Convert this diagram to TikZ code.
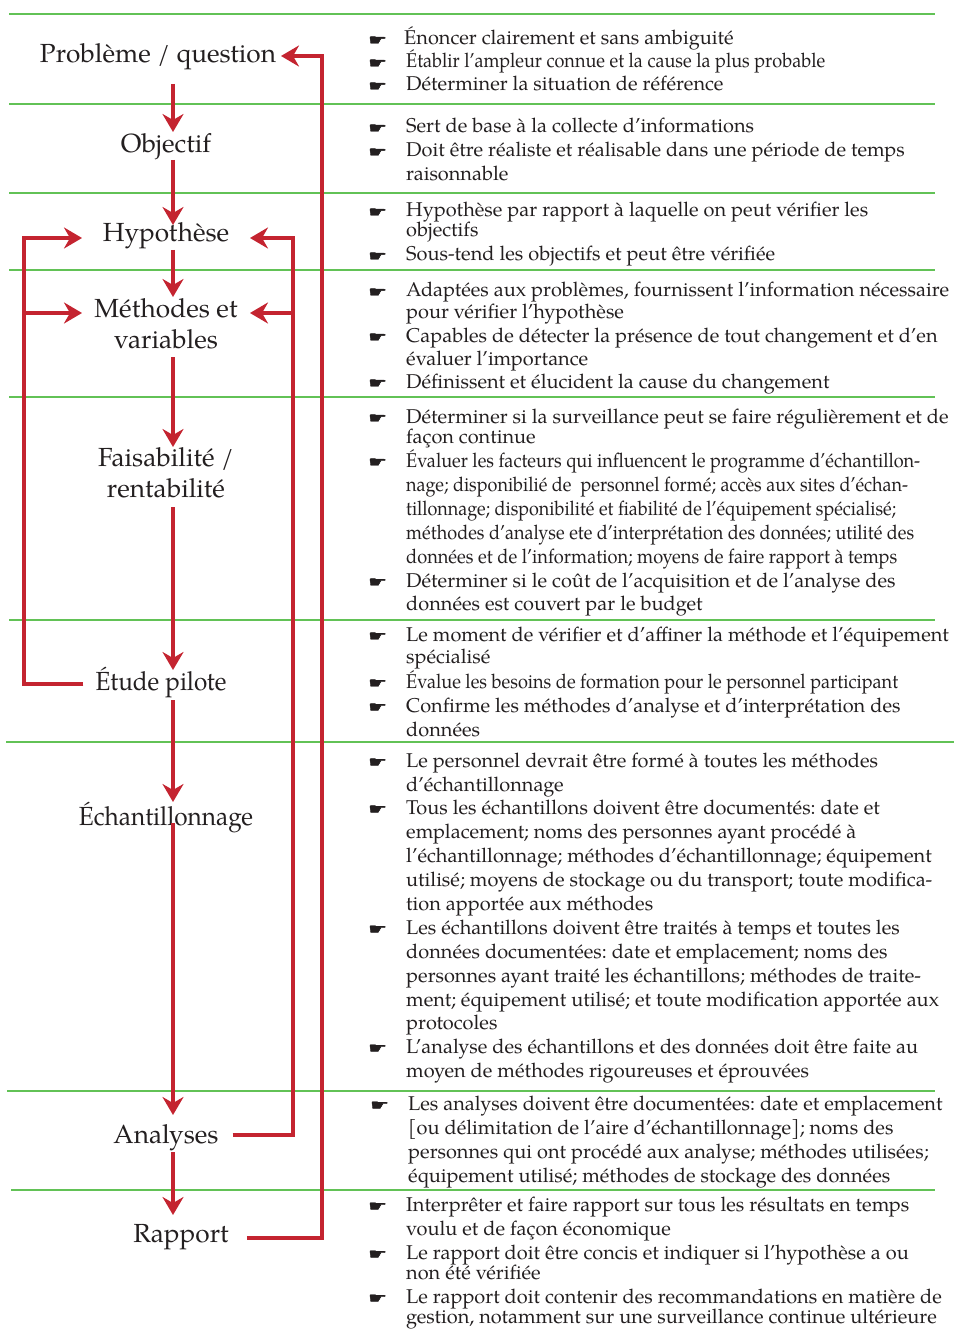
\documentclass[tikz,border=0pt]{standalone}
\usepackage{fontspec}
\setmainfont{TeX Gyre Pagella}
\newfontfamily\handfont[FakeBold=2]{DejaVu Sans}
\usetikzlibrary{arrows.meta,calc}
\definecolor{flowred}{RGB}{196,36,48}
\definecolor{rulegreen}{RGB}{98,194,86}
\definecolor{ink}{RGB}{35,31,32}
\frenchspacing
% squeeze a line horizontally to a given width (in pt), keeping its height
\newcommand\fitto[2]{\resizebox{#1pt}{\height}{#2}}
% flattened pointing-hand bullet
\newcommand\pointer{\scalebox{1}[0.7]{☛}}

\begin{document}
\begin{tikzpicture}[x=1pt,y=-1pt,
  stage/.style={font=\fontsize{26.2}{30}\selectfont, text=ink, inner sep=0pt, anchor=base},
  txt/.style={font=\fontsize{19.95}{23}\selectfont, text=ink, inner sep=0pt, anchor=base west},
  hand/.style={font=\handfont\fontsize{21}{22}\selectfont, text=ink, inner sep=0pt, anchor=base west},
  rule/.style={draw=rulegreen, line width=1.8pt},
  wire/.style={draw=flowred, line width=4pt},
  flow/.style={wire, -{Stealth[length=18pt,width=21pt,inset=6pt]}},
]
\fill[white] (0,0) rectangle (954,1329);
\useasboundingbox (0,0) rectangle (954,1329);

% horizontal separators between the stages
\foreach \y/\a/\b in {14/9/935, 104/9/935, 193/9/935, 270/9/935, 397/9/935,
                      620/9/935, 742/6/954, 1091/7/935, 1190/11/935}
  \draw[rule] (\a,\y) -- (\b,\y);

% vertical rails of the flow
\coordinate (spine) at (173,0);
\coordinate (railL) at (24,0);
\coordinate (railR) at (293,0);
\coordinate (railO) at (322,0);

% stages
\node[stage] (prob)   at (158,63)   {Problème / question};
\node[stage] (obj)    at (166,153)  {Objectif};
\node[stage] (hyp)    at (166,242)  {Hypothèse};
\node[stage] (meth1)  at (166,317)  {Méthodes et};
\node[stage] (meth2)  at (166,348)  {variables};
\node[stage] (fais1)  at (166,466)  {Faisabilité /};
\node[stage] (fais2)  at (166,497)  {rentabilité};
\node[stage] (etude)  at (161,690)  {\fitto{131}{Étude pilote}};
\node[stage] (echant) at (166,825)  {\fitto{174}{Échantillonnage}};
\node[stage] (ana)    at (166,1143) {Analyses};
\node[stage] (rap)    at (181,1242) {Rapport};

% main sequence
\draw[flow] ($(prob.base -| spine)+(0,21)$)   -- ($(obj.base -| spine)+(0,-21)$);
\draw[flow] ($(obj.base -| spine)+(0,7)$)     -- ($(hyp.base -| spine)+(0,-17)$);
\draw[flow] ($(hyp.base -| spine)+(0,8)$)     -- ($(meth1.base -| spine)+(0,-20)$);
\draw[flow] ($(meth2.base -| spine)+(0,9)$)   -- ($(fais1.base -| spine)+(0,-19)$);
\draw[flow] ($(fais2.base -| spine)+(0,10)$)  -- ($(etude.base -| spine)+(0,-20)$);
\draw[flow] ($(etude.base -| spine)+(0,10)$)  -- ($(echant.base -| spine)+(0,-23)$);
\draw[flow] ($(echant.base -| spine)+(0,-2)$) -- ($(ana.base -| spine)+(0,-28)$);
\draw[flow] ($(ana.base -| spine)+(0,9)$)     -- ($(rap.base -| spine)+(0,-27)$);

% feedback loops
\draw[flow] ($(etude.base west)+(-12,-6)$) -| ($(hyp.base -| railL)+(0,-4)$) -- ++(58,0);
\draw[flow] ($(meth1.base -| railL)+(0,-4)$) -- ++(58,0);
\draw[flow] ($(ana.base east)+(14,-8)$) -| ($(hyp.base -| railR)+(0,-4)$) -- ++(-43,0);
\draw[flow] ($(meth1.base -| railR)+(0,-4)$) -- ++(-43,0);
\draw[flow] ($(rap.base east)+(18,-4)$) -| ($(prob.base -| railO)+(0,-7)$) -- ++(-41,0);

% notes: problem / question
\node[hand] (b01) at (368,45) {\pointer};
\node[txt] (t01) at (404,45) {Énoncer clairement et sans ambiguité};
\node[hand] (b02) at (368,68) {\pointer};
\node[txt] (t02) at (406,68) {\fitto{419}{Établir l’ampleur connue et la cause la plus probable}};
\node[hand] (b03) at (368,91) {\pointer};
\node[txt] (t03) at (406,91) {Déterminer la situation de référence};

% notes: objective
\node[hand] (b04) at (368,133) {\pointer};
\node[txt] (t04) at (406,133) {Sert de base à la collecte d’informations};
\node[hand] (b05) at (368,157) {\pointer};
\node[txt] (t05) at (406,157) {Doit être réaliste et réalisable dans une période de temps};
\node[txt] (t06) at (406,181) {raisonnable};

% notes: hypothesis
\node[hand] (b06) at (368,217) {\pointer};
\node[txt] (t07) at (406,217) {Hypothèse par rapport à laquelle on peut vérifier les};
\node[txt] (t08) at (406,237) {objectifs};
\node[hand] (b07) at (368,261) {\pointer};
\node[txt] (t09) at (406,261) {Sous-tend les objectifs et peut être vérifiée};

% notes: methods and variables
\node[hand] (b08) at (368,297) {\pointer};
\node[txt] (t10) at (406,297) {Adaptées aux problèmes, fournissent l’information nécessaire};
\node[txt] (t11) at (406,318) {pour vérifier l’hypothèse};
\node[hand] (b09) at (368,342) {\pointer};
\node[txt] (t12) at (406,342) {Capables de détecter la présence de tout changement et d’en};
\node[txt] (t13) at (406,365) {évaluer l’importance};
\node[hand] (b10) at (368,388) {\pointer};
\node[txt] (t14) at (406,388) {Définissent et élucident la cause du changement};

% notes: feasibility
\node[hand] (b11) at (368,423) {\pointer};
\node[txt] (t15) at (406,423) {Déterminer si la surveillance peut se faire régulièrement et de};
\node[txt] (t16) at (406,443) {façon continue};
\node[hand] (b12) at (368,467) {\pointer};
\node[txt] (t17) at (406,467) {\fitto{514}{Évaluer les facteurs qui influencent le programme d’échantillon-}};
\node[txt] (t18) at (406,491) {\fitto{502}{nage; disponibilié de~ personnel formé; accès aux sites d’échan-}};
\node[txt] (t19) at (406,515) {\fitto{490}{tillonnage; disponibilité et fiabilité de l’équipement spécialisé;}};
\node[txt] (t20) at (406,539) {\fitto{508}{méthodes d’analyse ete d’interprétation des données; utilité des}};
\node[txt] (t21) at (406,563) {\fitto{491}{données et de l’information; moyens de faire rapport à temps}};
\node[hand] (b13) at (368,587) {\pointer};
\node[txt] (t22) at (406,587) {Déterminer si le coût de l’acquisition et de l’analyse des};
\node[txt] (t23) at (406,610) {données est couvert par le budget};

% notes: pilot study
\node[hand] (b14) at (368,641) {\pointer};
\node[txt] (t24) at (406,641) {Le moment de vérifier et d’affiner la méthode et l’équipement};
\node[txt] (t25) at (406,663) {spécialisé};
\node[hand] (b15) at (368,688) {\pointer};
\node[txt] (t26) at (406,688) {\fitto{492}{Évalue les besoins de formation pour le personnel participant}};
\node[hand] (b16) at (368,712) {\pointer};
\node[txt] (t27) at (406,712) {Confirme les méthodes d’analyse et d’interprétation des};
\node[txt] (t28) at (406,736) {données};

% notes: sampling
\node[hand] (b17) at (368,767) {\pointer};
\node[txt] (t29) at (406,767) {Le personnel devrait être formé à toutes les méthodes};
\node[txt] (t30) at (406,791) {d’échantillonnage};
\node[hand] (b18) at (368,814) {\pointer};
\node[txt] (t31) at (406,814) {Tous les échantillons doivent être documentés: date et};
\node[txt] (t32) at (406,838) {emplacement; noms des personnes ayant procédé à};
\node[txt] (t33) at (406,862) {l’échantillonnage; méthodes d’échantillonnage; équipement};
\node[txt] (t34) at (406,886) {utilisé; moyens de stockage ou du transport; toute modifica-};
\node[txt] (t35) at (406,910) {tion apportée aux méthodes};
\node[hand] (b19) at (368,934) {\pointer};
\node[txt] (t36) at (406,934) {Les échantillons doivent être traités à temps et toutes les};
\node[txt] (t37) at (406,958) {données documentées: date et emplacement; noms des};
\node[txt] (t38) at (406,982) {personnes ayant traité les échantillons; méthodes de traite-};
\node[txt] (t39) at (406,1006) {ment; équipement utilisé; et toute modification apportée aux};
\node[txt] (t40) at (406,1029) {protocoles};
\node[hand] (b20) at (368,1053) {\pointer};
\node[txt] (t41) at (406,1053) {L’analyse des échantillons et des données doit être faite au};
\node[txt] (t42) at (406,1077) {moyen de méthodes rigoureuses et éprouvées};

% notes: analyses
\node[hand] (b21) at (370,1110) {\pointer};
\node[txt] (t43) at (408,1110) {Les analyses doivent être documentées: date et emplacement};
\node[txt] (t44) at (408,1134) {[ou délimitation de l’aire d’échantillonnage]; noms des};
\node[txt] (t45) at (408,1158) {personnes qui ont procédé aux analyse; méthodes utilisées;};
\node[txt] (t46) at (408,1182) {équipement utilisé; méthodes de stockage des données};

% notes: report
\node[hand] (b22) at (368,1211) {\pointer};
\node[txt] (t47) at (406,1211) {Interprêter et faire rapport sur tous les résultats en temps};
\node[txt] (t48) at (406,1235) {voulu et de façon économique};
\node[hand] (b23) at (368,1259) {\pointer};
\node[txt] (t49) at (406,1259) {Le rapport doit être concis et indiquer si l’hypothèse a ou};
\node[txt] (t50) at (406,1279) {non été vérifiée};
\node[hand] (b24) at (368,1303) {\pointer};
\node[txt] (t51) at (406,1303) {Le rapport doit contenir des recommandations en matière de};
\node[txt] (t52) at (406,1323) {gestion, notamment sur une surveillance continue ultérieure};
\end{tikzpicture}
\end{document}
